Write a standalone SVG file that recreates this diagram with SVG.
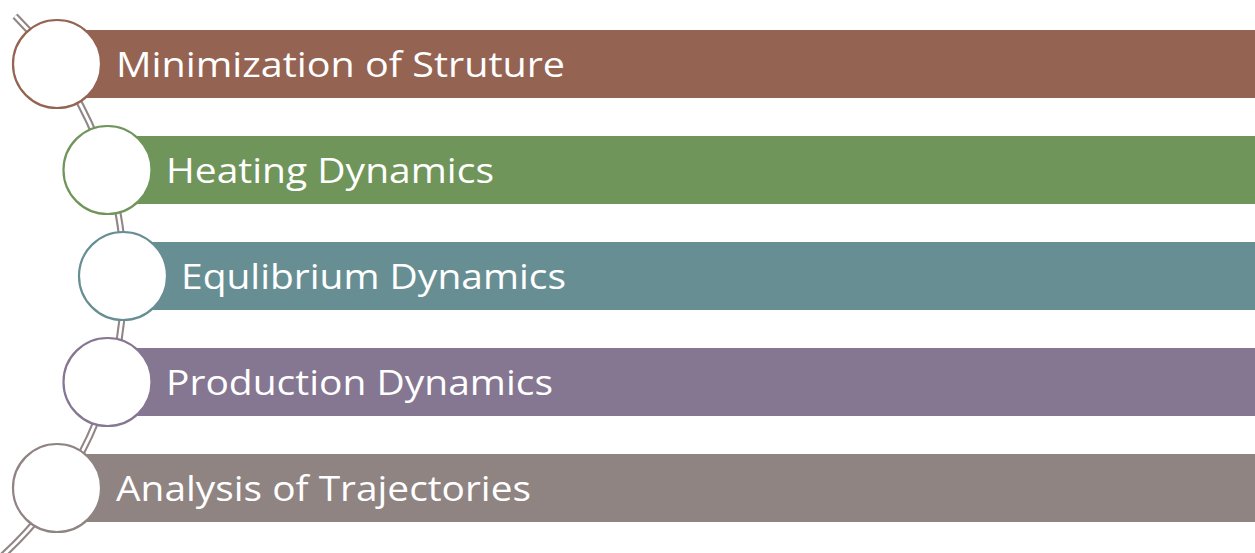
<svg xmlns="http://www.w3.org/2000/svg" width="1255" height="553" viewBox="0 0 1255 553">
  <style>
    .bar { stroke: none; }
    .dot { fill: #ffffff; stroke-width: 2.2; }
    .label { font-family: "Open Sans", "Noto Sans", "Liberation Sans", sans-serif; font-size: 35px; fill: #ffffff; }
    .rail-out { fill: none; stroke: #918685; stroke-width: 7; }
    .rail-in { fill: none; stroke: #ffffff; stroke-width: 2.8; }
  </style>

  <rect width="1255" height="553" fill="#ffffff"/>

  <!-- curved double rail the circles sit on -->
  <g id="connectors">
    <path class="rail-out" d="M 15 16 A 374 374 0 0 1 -14 570"/>
    <path class="rail-in" d="M 15 16 A 374 374 0 0 1 -14 570"/>
  </g>

  <g id="node-1">
    <rect class="bar" x="57" y="30" width="1198" height="68" fill="#956352"/>
    <circle class="dot" cx="57" cy="64" r="44" stroke="#956352"/>
    <text class="label" x="116" y="77" textLength="449" lengthAdjust="spacingAndGlyphs">Minimization of Struture</text>
  </g>

  <g id="node-2">
    <rect class="bar" x="107" y="136" width="1148" height="68" fill="#70955a"/>
    <circle class="dot" cx="107.5" cy="170" r="44" stroke="#70955a"/>
    <text class="label" x="166" y="183" textLength="328" lengthAdjust="spacingAndGlyphs">Heating Dynamics</text>
  </g>

  <g id="node-3">
    <rect class="bar" x="123" y="242" width="1132" height="68" fill="#678f93"/>
    <circle class="dot" cx="123" cy="276" r="44" stroke="#678f93"/>
    <text class="label" x="181" y="289" textLength="385" lengthAdjust="spacingAndGlyphs">Equlibrium Dynamics</text>
  </g>

  <g id="node-4">
    <rect class="bar" x="107" y="348" width="1148" height="68" fill="#857691"/>
    <circle class="dot" cx="107.5" cy="382" r="44" stroke="#857691"/>
    <text class="label" x="166" y="395" textLength="387" lengthAdjust="spacingAndGlyphs">Production Dynamics</text>
  </g>

  <g id="node-5">
    <rect class="bar" x="57" y="454" width="1198" height="68" fill="#8f8482"/>
    <circle class="dot" cx="57" cy="488" r="44" stroke="#8f8482"/>
    <text class="label" x="116" y="501" textLength="415" lengthAdjust="spacingAndGlyphs">Analysis of Trajectories</text>
  </g>
</svg>
